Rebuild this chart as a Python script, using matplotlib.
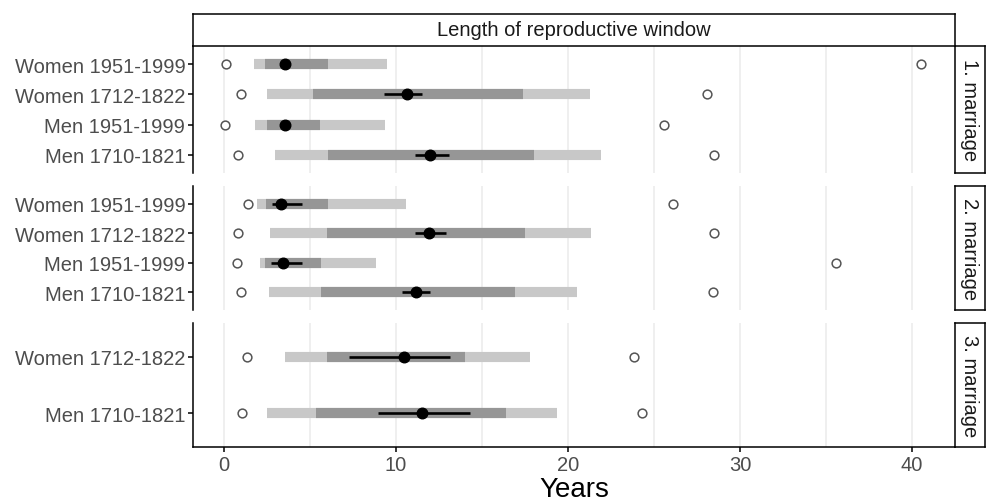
import matplotlib.pyplot as plt
import numpy as np

plt.rcParams['font.family'] = ['Liberation Sans', 'DejaVu Sans']

# groups per marriage panel, top to bottom
groups_12 = ['Women 1951-1999', 'Women 1712-1822', 'Men 1951-1999', 'Men 1710-1821']
groups_3 = ['Women 1712-1822', 'Men 1710-1821']
panel_names = ['1. marriage', '2. marriage', '3. marriage']

# 1. marriage
m1_min = [0.1, 0.97, 0.06, 0.82]
m1_max = [40.5, 28.08, 25.6, 28.5]
m1_outer_lo = [1.75, 2.5, 1.83, 2.99]
m1_outer_hi = [9.5, 21.3, 9.36, 21.9]
m1_inner_lo = [2.4, 5.17, 2.49, 6.06]
m1_inner_hi = [6.06, 17.4, 5.57, 18.0]
m1_mid = [3.57, 10.64, 3.55, 11.98]
m1_ci_lo = [3.35, 9.3, 3.35, 11.09]
m1_ci_hi = [3.8, 11.5, 3.78, 13.09]

# 2. marriage
m2_min = [1.4, 0.82, 0.78, 0.97]
m2_max = [26.09, 28.49, 35.56, 28.41]
m2_outer_lo = [1.92, 2.66, 2.1, 2.64]
m2_outer_hi = [10.58, 21.36, 8.83, 20.5]
m2_inner_lo = [2.43, 6.0, 2.41, 5.67]
m2_inner_hi = [6.06, 17.53, 5.67, 16.9]
m2_mid = [3.34, 11.9, 3.42, 11.17]
m2_ci_lo = [2.82, 11.09, 2.74, 10.35]
m2_ci_hi = [4.56, 12.91, 4.56, 11.98]

# 3. marriage
m3_min = [1.32, 1.07]
m3_max = [23.82, 24.32]
m3_outer_lo = [3.53, 2.5]
m3_outer_hi = [17.8, 19.36]
m3_inner_lo = [5.98, 5.36]
m3_inner_hi = [14.04, 16.37]
m3_mid = [10.47, 11.5]
m3_ci_lo = [7.26, 8.93]
m3_ci_hi = [13.15, 14.33]

x_ticks = [0, 10, 20, 30, 40]

panels = [
    (groups_12, m1_min, m1_max, m1_outer_lo, m1_outer_hi, m1_inner_lo, m1_inner_hi, m1_mid, m1_ci_lo, m1_ci_hi),
    (groups_12, m2_min, m2_max, m2_outer_lo, m2_outer_hi, m2_inner_lo, m2_inner_hi, m2_mid, m2_ci_lo, m2_ci_hi),
    (groups_3, m3_min, m3_max, m3_outer_lo, m3_outer_hi, m3_inner_lo, m3_inner_hi, m3_mid, m3_ci_lo, m3_ci_hi),
]

W, H = 986, 502
fig = plt.figure(figsize=(W / 100, H / 100), dpi=100)

def box(x0, y0, x1, y1):
    # pixel box (top-left origin) -> figure fraction
    return [x0 / W, 1 - y1 / H, (x1 - x0) / W, (y1 - y0) / H]

left, right = 193, 955
rows = [(47, 174), (187, 311), (324, 448)]
xlim = (-1.8, 42.5)
fs = 14.5

axes = []
for i, (top, bot) in enumerate(rows):
    grp, mn, mx, olo, ohi, ilo, ihi, mid, clo, chi = panels[i]
    ax = fig.add_axes(box(left, top, right, bot))
    y = np.arange(1, len(grp) + 1)

    for g in np.arange(0, 45, 5):
        ax.axvline(g, color='#EBEBEB', lw=1.1, zorder=0)

    ax.hlines(y, olo, ohi, color='#C8C8C8', lw=7.3, capstyle='butt', zorder=1)
    ax.hlines(y, ilo, ihi, color='#969696', lw=7.3, capstyle='butt', zorder=2)
    ax.hlines(y, clo, chi, color='black', lw=1.9, zorder=3)
    ax.plot(mid, y, 'o', color='black', ms=7.6, zorder=4)
    ax.plot(mn, y, 'o', mfc='white', mec='#555555', mew=1.1, ms=6.3, zorder=4)
    ax.plot(mx, y, 'o', mfc='white', mec='#555555', mew=1.1, ms=6.3, zorder=4)

    ax.set_xlim(*xlim)
    ax.set_ylim(len(grp) + 0.6, 0.4)
    ax.set_yticks(y)
    ax.set_yticklabels(grp, fontsize=fs, color='#4D4D4D')
    ax.set_xticks(x_ticks)
    for s in ['top', 'right']:
        ax.spines[s].set_visible(False)
    ax.spines['left'].set_linewidth(1.1)
    ax.tick_params(axis='y', length=3.5, width=1.1, color='black', pad=2)
    if i < 2:
        ax.spines['bottom'].set_visible(False)
        ax.tick_params(axis='x', bottom=False, labelbottom=False)
    else:
        ax.spines['bottom'].set_linewidth(1.1)
        ax.tick_params(axis='x', length=3.5, width=1.1, color='black', labelsize=fs,
                       labelcolor='#4D4D4D', pad=2)
        ax.set_xlabel('Years', fontsize=20, labelpad=2)

    # strip on the right
    sax = fig.add_axes(box(right, top, W - 1, bot))
    sax.set_xticks([])
    sax.set_yticks([])
    for s in sax.spines.values():
        s.set_linewidth(1.1)
    sax.text(0.5, 0.5, panel_names[i], rotation=-90, ha='center', va='center',
             fontsize=fs, color='#1A1A1A', transform=sax.transAxes)
    axes.append(ax)

# strip on top
tax = fig.add_axes(box(left, 15, right, 47))
tax.set_xticks([])
tax.set_yticks([])
for s in tax.spines.values():
    s.set_linewidth(1.1)
tax.text(0.5, 0.5, 'Length of reproductive window', ha='center', va='center',
         fontsize=fs, color='#1A1A1A', transform=tax.transAxes)

fig.savefig('out.png', dpi=100)
